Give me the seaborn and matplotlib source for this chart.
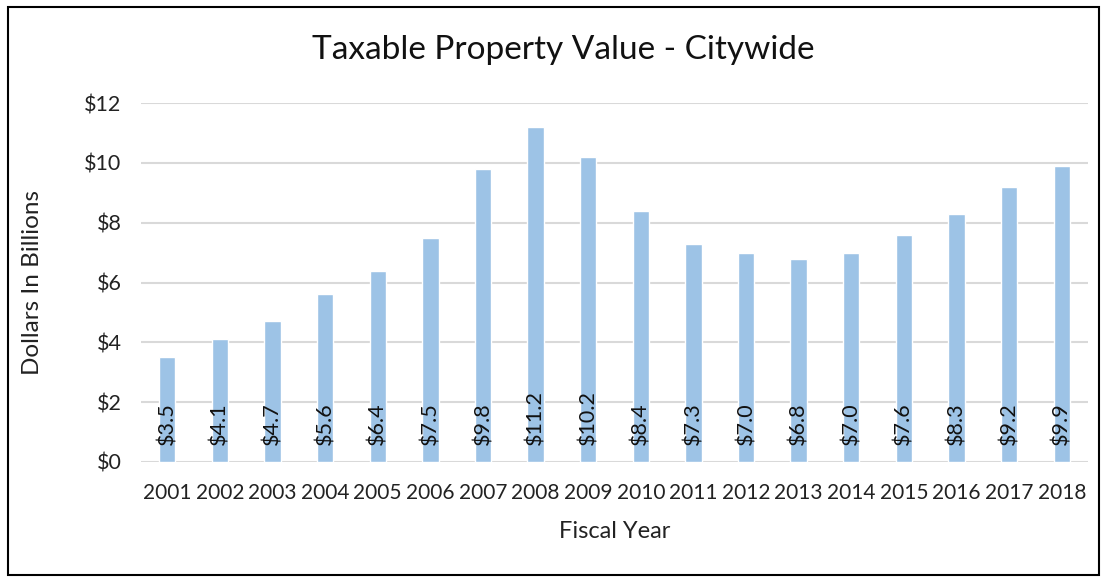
import matplotlib
matplotlib.use("Agg")
import matplotlib.pyplot as plt
from matplotlib.patches import Rectangle
import seaborn as sns
import pandas as pd

years = ["2001", "2002", "2003", "2004", "2005", "2006", "2007", "2008", "2009",
         "2010", "2011", "2012", "2013", "2014", "2015", "2016", "2017", "2018"]
values = [3.5, 4.1, 4.7, 5.6, 6.4, 7.5, 9.8, 11.2, 10.2,
          8.4, 7.3, 7.0, 6.8, 7.0, 7.6, 8.3, 9.2, 9.9]
y_ticks = [0, 2, 4, 6, 8, 10, 12]

sns.set_theme(style="white")
plt.rcParams["font.family"] = ["Lato", "DejaVu Sans"]

df = pd.DataFrame({"year": years, "value": values})

fig = plt.figure(figsize=(11.07, 5.82), dpi=100)
ax = fig.add_axes([141 / 1107, 1 - 462 / 582, 947 / 1107, 359 / 582])

sns.barplot(data=df, x="year", y="value", color="#9DC3E6", saturation=1,
            width=0.31, ax=ax)

ax.set_ylim(0, 12)
ax.set_xlim(-0.5, len(years) - 0.5)
ax.set_yticks(y_ticks)
ax.set_yticklabels([f"${t}" for t in y_ticks], fontsize=15.5, color="#222222")
ax.tick_params(axis="x", labelsize=15, colors="#222222", pad=15, length=0)
ax.tick_params(axis="y", pad=14, length=0)
ax.yaxis.grid(True, color="#d9d9d9", linewidth=1.5)
ax.set_axisbelow(True)
for s in ax.spines.values():
    s.set_visible(False)

for i, v in enumerate(values):
    ax.annotate(f"${v:.1f}", xy=(i, 0), xytext=(0, 12), textcoords="offset points",
                rotation=90, ha="center", va="bottom", fontsize=15.5,
                color="#111111")

ax.set_xlabel("Fiscal Year", fontsize=17, color="#222222", va="center")
ax.xaxis.set_label_coords(0.5, (462 - 532) / 359)
ax.set_ylabel("Dollars In Billions", fontsize=17.5, color="#222222", va="center")
ax.yaxis.set_label_coords((33 - 141) / 947, 0.5)
fig.text(563 / 1107, 1 - 50 / 582, "Taxable Property Value - Citywide",
         ha="center", va="center", fontsize=24, color="#111111")

fig.patches.append(Rectangle((8 / 1107, 7 / 582), 1091 / 1107, 568 / 582,
                             transform=fig.transFigure, fill=False,
                             edgecolor="black", linewidth=1.5))

fig.savefig("out.png", dpi=100, facecolor="white")
